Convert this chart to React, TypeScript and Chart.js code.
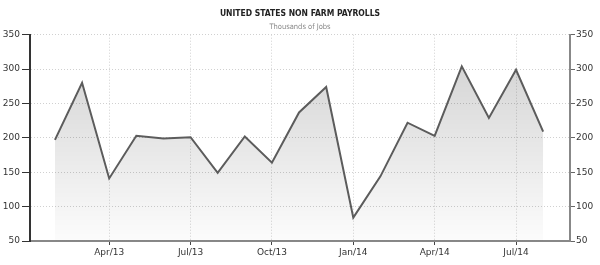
import React, { useEffect, useRef } from "react";
import { Chart, registerables } from "chart.js";

Chart.register(...registerables);

const months = [
  "Feb/13", "Mar/13", "Apr/13", "May/13", "Jun/13", "Jul/13", "Aug/13", "Sep/13", "Oct/13",
  "Nov/13", "Dec/13", "Jan/14", "Feb/14", "Mar/14", "Apr/14", "May/14", "Jun/14", "Jul/14", "Aug/14",
];
const payrolls = [197, 280, 141, 203, 199, 201, 149, 202, 164, 237, 274, 84, 144, 222, 203, 304, 229, 299, 209];
const xTickLabels = ["Apr/13", "Jul/13", "Oct/13", "Jan/14", "Apr/14", "Jul/14"];
const yTicks = [50, 100, 150, 200, 250, 300, 350];
const titleText = "UNITED STATES NON FARM PAYROLLS";
const subtitleText = "Thousands of Jobs";

const FONT = "'DejaVu Sans', Tahoma, sans-serif";
const FONT_C = "'DejaVu Sans Condensed', 'DejaVu Sans', sans-serif";

export default function App() {
  const ref = useRef<HTMLCanvasElement | null>(null);

  useEffect(() => {
    const canvas = ref.current;
    if (!canvas) return;
    const tickIdx = xTickLabels.map((l) => months.indexOf(l));
    const chart = new Chart(canvas, {
      type: "line",
      data: {
        datasets: [
          {
            data: months.map((m, i) => ({ x: i, y: payrolls[i] })),
            borderColor: "#5c5c5c",
            borderWidth: 2,
            pointRadius: 0,
            tension: 0,
            fill: "start",
            backgroundColor: (ctx: any) => {
              const area = ctx.chart.chartArea;
              if (!area) return "rgba(0,0,0,0.1)";
              const g = ctx.chart.ctx.createLinearGradient(0, area.top, 0, area.bottom);
              g.addColorStop(0, "rgba(0,0,0,0.19)");
              g.addColorStop(1, "rgba(0,0,0,0.01)");
              return g;
            },
          },
        ],
      },
      options: {
        animation: false,
        responsive: false,
        maintainAspectRatio: false,
        layout: { padding: 0 },
        plugins: {
          legend: { display: false },
          tooltip: { enabled: false },
          title: {
            display: true,
            text: titleText,
            color: "#222",
            font: { family: FONT_C, size: 8.5, weight: "bold" },
            padding: { top: 9, bottom: 1.5 },
          },
          subtitle: {
            display: true,
            text: subtitleText,
            color: "#888",
            font: { family: FONT_C, size: 7.5 },
            padding: { top: 2, bottom: 3 },
          },
        },
        scales: {
          x: {
            type: "linear",
            min: -0.92,
            max: 18.99,
            afterBuildTicks: (scale: any) => {
              scale.ticks = tickIdx.map((v) => ({ value: v }));
            },
            afterFit: (scale: any) => {
              scale.height = 24;
            },
            ticks: {
              autoSkip: false,
              maxRotation: 0,
              padding: 2,
              color: "#333",
              font: { family: FONT, size: 9 },
              callback: (v: any) => months[Math.round(Number(v))],
            },
            grid: {
              color: "#d0d0d0",
              lineWidth: 1,
              tickLength: 4,
              tickColor: "#444",
            },
            border: { color: "#888", width: 2, dash: [1, 2] },
          },
          y: {
            type: "linear",
            position: "left",
            min: 50,
            max: 350,
            afterBuildTicks: (scale: any) => {
              scale.ticks = yTicks.map((v) => ({ value: v }));
            },
            afterFit: (scale: any) => {
              scale.width = 30;
            },
            ticks: {
              padding: 2,
              color: "#333",
              font: { family: FONT, size: 9 },
            },
            grid: {
              color: "#d0d0d0",
              lineWidth: 1,
              tickLength: 8,
              tickColor: "#333",
            },
            border: { color: "#333", width: 2, dash: [1, 2] },
          },
          y2: {
            type: "linear",
            position: "right",
            min: 50,
            max: 350,
            afterBuildTicks: (scale: any) => {
              scale.ticks = yTicks.map((v) => ({ value: v }));
            },
            afterFit: (scale: any) => {
              scale.width = 30;
            },
            ticks: {
              padding: 1,
              color: "#333",
              font: { family: FONT, size: 9 },
            },
            grid: {
              drawOnChartArea: false,
              tickLength: 5,
              tickColor: "#666",
            },
            border: { color: "#888", width: 2 },
          },
        },
      },
    });
    return () => chart.destroy();
  }, []);

  return (
    <div style={{ position: "fixed", left: 0, top: 0, width: 600, height: 265, background: "#fff" }}>
      <canvas ref={ref} width={600} height={265} style={{ width: 600, height: 265, display: "block" }} />
    </div>
  );
}
